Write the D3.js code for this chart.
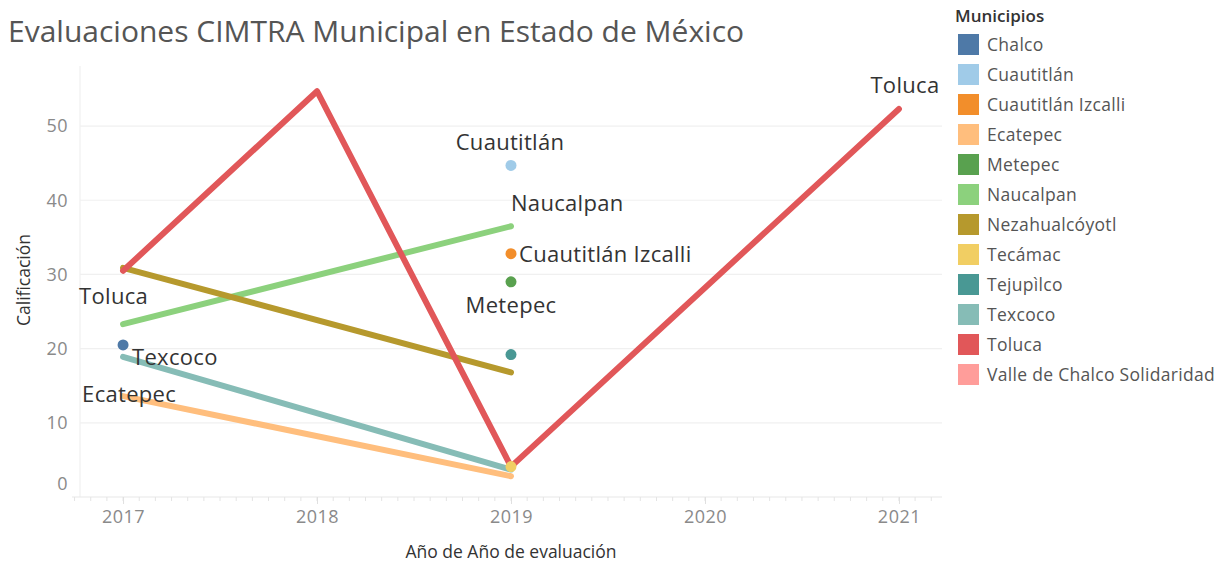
<!DOCTYPE html>
<html>
<head>
<meta charset="utf-8">
<style>
  body { margin: 0; background: #fff; }
  svg text { font-family: "Open Sans", "DejaVu Sans", sans-serif; }
</style>
</head>
<body>
<svg width="1217" height="564"></svg>
<script src="https://d3js.org/d3.v7.min.js"></script>
<script>
  // data
  var years = [2017, 2018, 2019, 2020, 2021];
  var yTicks = [0, 10, 20, 30, 40, 50];
  var municipios = ["Chalco", "Cuautitlán", "Cuautitlán Izcalli", "Ecatepec", "Metepec", "Naucalpan",
    "Nezahualcóyotl", "Tecámac", "Tejupìlco", "Texcoco", "Toluca", "Valle de Chalco Solidaridad"];
  var colores = ["#4e79a7", "#a0cbe8", "#f28e2b", "#ffbe7d", "#59a14f", "#8cd17d",
    "#b6992d", "#f1ce63", "#499894", "#86bcb6", "#e15759", "#ff9d9a"];

  var chalco = [[2017, 20.5]];
  var cuautitlan = [[2019, 44.7]];
  var izcalli = [[2019, 32.8]];
  var ecatepec = [[2017, 13.6], [2019, 2.8]];
  var metepec = [[2019, 29.0]];
  var naucalpan = [[2017, 23.3], [2019, 36.5]];
  var nezahualcoyotl = [[2017, 30.9], [2019, 16.8]];
  var tecamac = [[2019, 4.1]];
  var tejupilco = [[2019, 19.2]];
  var texcoco = [[2017, 18.9], [2019, 3.7]];
  var toluca = [[2017, 30.5], [2018, 54.7], [2019, 4.1], [2021, 52.3]];
  var valleChalco = [];

  var series = [chalco, cuautitlan, izcalli, ecatepec, metepec, naucalpan,
    nezahualcoyotl, tecamac, tejupilco, texcoco, toluca, valleChalco];

  // which marks carry a text label (municipio index, point index)
  var etiquetas = [
    { m: 10, i: 0, anchor: "end", dx: 25, dy: 33 },
    { m: 9, i: 0, anchor: "start", dx: 9, dy: 8 },
    { m: 3, i: 0, anchor: "end", dx: 53, dy: 6 },
    { m: 1, i: 0, anchor: "middle", dx: -1, dy: -15 },
    { m: 5, i: 1, anchor: "start", dx: 0, dy: -15 },
    { m: 2, i: 0, anchor: "start", dx: 8, dy: 8 },
    { m: 4, i: 0, anchor: "middle", dx: 0, dy: 31 },
    { m: 10, i: 3, anchor: "middle", dx: 6, dy: -16 }
  ];

  var svg = d3.select("svg");
  var plot = { left: 80, right: 942, top: 66, bottom: 497 };

  var x = d3.scaleLinear().domain([2016.778, 2021.222]).range([plot.left, plot.right]);
  var y = d3.scaleLinear().domain([0, 58.1]).range([plot.bottom, plot.top]);
  var color = d3.scaleOrdinal().domain(municipios).range(colores);

  svg.append("text")
    .attr("x", 8).attr("y", 42)
    .attr("fill", "#555")
    .style("font-size", "30px")
    .text("Evaluaciones CIMTRA Municipal en Estado de México");

  // grid
  svg.append("g").selectAll("line")
    .data(yTicks.filter(function (d) { return d > 0; }))
    .enter().append("line")
    .attr("x1", plot.left).attr("x2", plot.right)
    .attr("y1", function (d) { return y(d); }).attr("y2", function (d) { return y(d); })
    .attr("stroke", "#f0f0f0").attr("stroke-width", 1.2);

  svg.append("line")
    .attr("x1", plot.left).attr("x2", plot.left)
    .attr("y1", plot.top).attr("y2", plot.bottom)
    .attr("stroke", "#f0f0f0").attr("stroke-width", 1.2);

  svg.append("line")
    .attr("x1", 72).attr("x2", plot.right)
    .attr("y1", plot.bottom).attr("y2", plot.bottom)
    .attr("stroke", "#e8e8e8").attr("stroke-width", 1.2);

  // y axis
  var yAxis = svg.append("g")
    .attr("transform", "translate(" + (plot.left - 12) + ",0)")
    .call(d3.axisLeft(y).tickValues(yTicks).tickSize(0).tickPadding(0));
  yAxis.select(".domain").remove();
  yAxis.selectAll("text")
    .attr("fill", "#8a8a8a")
    .style("font-size", "18px")
    .style("letter-spacing", "0.5px")
    .attr("dy", function (d) { return d === 0 ? "-0.42em" : "0.32em"; });

  // x axis with monthly minor ticks
  var meses = d3.range(2016.75, 2021.25, 1 / 12).filter(function (d) { return x(d) >= 72 && x(d) <= plot.right; });
  svg.append("g").selectAll("line")
    .data(meses)
    .enter().append("line")
    .attr("x1", function (d) { return x(d); }).attr("x2", function (d) { return x(d); })
    .attr("y1", plot.bottom).attr("y2", plot.bottom + 4)
    .attr("stroke", "#e4e4e4");

  var xAxis = svg.append("g")
    .attr("transform", "translate(0," + plot.bottom + ")")
    .call(d3.axisBottom(x).tickValues(years).tickFormat(d3.format("d")).tickSize(7).tickPadding(6));
  xAxis.select(".domain").remove();
  xAxis.selectAll(".tick line").attr("stroke", "#e0e0e0");
  xAxis.selectAll("text")
    .attr("fill", "#8a8a8a")
    .style("font-size", "18px")
    .style("letter-spacing", "0.5px");

  svg.append("text")
    .attr("transform", "translate(30,280) rotate(-90)")
    .attr("text-anchor", "middle")
    .attr("fill", "#333")
    .style("font-size", "17.5px")
    .text("Calificación");

  svg.append("text")
    .attr("x", 511).attr("y", 558)
    .attr("text-anchor", "middle")
    .attr("fill", "#333")
    .style("font-size", "17.5px")
    .text("Año de Año de evaluación");

  // marks: lines first, points on top
  var line = d3.line()
    .x(function (d) { return x(d[0]); })
    .y(function (d) { return y(d[1]); });

  var lineas = svg.append("g");
  var puntos = svg.append("g");
  series.forEach(function (s, k) {
    if (s.length > 1) {
      lineas.append("path")
        .datum(s)
        .attr("fill", "none")
        .attr("stroke", color(municipios[k]))
        .attr("stroke-width", 6)
        .attr("stroke-linecap", "round")
        .attr("stroke-linejoin", "round")
        .attr("d", line);
    } else if (s.length === 1) {
      puntos.append("circle")
        .attr("cx", x(s[0][0])).attr("cy", y(s[0][1]))
        .attr("r", 5.5)
        .attr("fill", color(municipios[k]));
    }
  });

  svg.append("g").selectAll("text")
    .data(etiquetas)
    .enter().append("text")
    .attr("x", function (d) { return x(series[d.m][d.i][0]) + d.dx; })
    .attr("y", function (d) { return y(series[d.m][d.i][1]) + d.dy; })
    .attr("text-anchor", function (d) { return d.anchor; })
    .attr("fill", "#333")
    .style("font-size", "22px")
    .style("letter-spacing", "0.3px")
    .text(function (d) { return municipios[d.m]; });

  // legend
  var legend = svg.append("g").attr("transform", "translate(955,0)");
  legend.append("text")
    .attr("x", 0).attr("y", 22)
    .attr("fill", "#333")
    .style("font-size", "17px")
    .style("font-weight", "600")
    .text("Municipios");

  var item = legend.selectAll("g.item")
    .data(municipios)
    .enter().append("g")
    .attr("class", "item")
    .attr("transform", function (d, i) { return "translate(0," + (34 + i * 30) + ")"; });
  item.append("rect")
    .attr("x", 3).attr("width", 21).attr("height", 21)
    .attr("fill", function (d) { return color(d); });
  item.append("text")
    .attr("x", 32).attr("y", 17)
    .attr("fill", "#555")
    .style("font-size", "17.5px")
    .style("letter-spacing", "0.3px")
    .text(function (d) { return d; });
</script>
</body>
</html>
